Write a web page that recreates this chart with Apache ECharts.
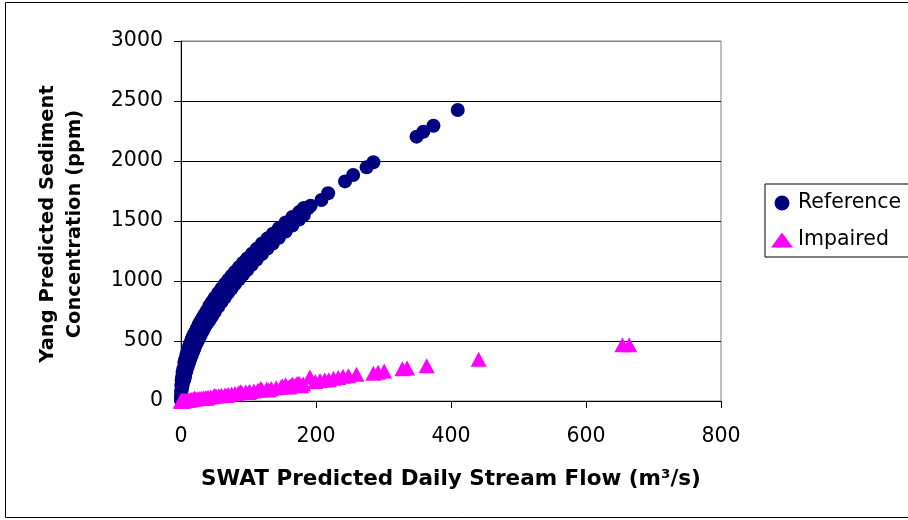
<!DOCTYPE html>
<html>
<head>
<meta charset="utf-8">
<script src="https://cdn.jsdelivr.net/npm/echarts@6/dist/echarts.min.js"></script>
<style>
  html, body { margin: 0; padding: 0; background: #fff; }
  #chart { width: 908px; height: 520px; }
</style>
</head>
<body>
<div id="chart"></div>
<script>
// Reference streams: daily flow (m3/s) and Yang sediment concentration (ppm)
const refFlow = [
  0.05, 0.1, 0.2, 0.3, 0.5, 0.6, 1, 1.2, 1.5, 2, 2.5, 3, 3.5, 4,
  5, 5, 6, 6, 7, 8, 8, 9, 10, 10, 11, 12, 12, 13, 14, 14, 15, 16, 16, 17,
  18, 18, 19, 20, 20, 21.5, 23, 23, 24.5, 26, 26, 27.5, 29, 29, 30.5, 32, 32,
  33.5, 35, 35, 36.5, 38, 38, 40, 42, 42, 44, 46, 46, 48, 50, 50, 52.5,
  55, 55, 57.5, 60, 60, 62.5, 65, 65, 67.5, 70, 70, 72.5, 75, 75, 77.5,
  80, 80, 83, 86, 86, 89, 92, 92, 95, 98, 98, 101.5, 105, 105, 108.5,
  112, 112, 116, 120, 120, 124, 128, 128, 132, 136, 136, 140.5, 145, 145,
  150, 155, 155, 160, 165, 165, 170, 175, 175, 179, 182, 182, 185, 188, 192,
  208, 218, 243, 255, 275, 285, 349, 359, 374, 410
];
const refConc = [
  5, 40, 80, 20, 130, 60, 170, 95, 200, 120, 240, 150, 270, 180,
  320, 180, 345, 205, 288, 385, 250, 328, 420, 285, 365, 455, 320, 398, 485, 352, 429, 515, 383, 458,
  540, 412, 485, 565, 440, 517, 600, 478, 554, 635, 513, 589, 665, 548, 621, 695, 580,
  653, 722, 612, 682, 750, 642, 716, 795, 670, 753, 828, 706, 788, 860, 742, 825,
  900, 784, 866, 938, 824, 904, 975, 863, 941, 1010, 902, 977, 1044, 938, 1012,
  1077, 974, 1049, 1116, 1015, 1088, 1152, 1054, 1126, 1188, 1092, 1165, 1228, 1136, 1207,
  1268, 1178, 1249, 1312, 1224, 1294, 1354, 1270, 1337, 1394, 1313, 1381, 1440, 1360,
  1430, 1488, 1412, 1478, 1533, 1462, 1526, 1576, 1512, 1568, 1608, 1550, 1595, 1605, 1627,
  1675, 1731, 1830, 1883, 1947, 1989, 2203, 2244, 2294, 2425
];

// Impaired streams
const impFlow = [
  0.1, 0.3, 0.6, 1, 1.5, 2, 3, 4, 5, 6, 8, 10, 12, 14, 16, 18, 20, 21, 24, 27,
  30, 33, 36, 38, 40, 44, 48, 50, 52, 56, 60, 65, 68, 70, 75, 80, 85, 88, 90,
  96, 100, 102, 108, 114, 118, 120, 127, 130, 134, 141, 148, 150, 155, 155,
  160, 162, 165, 169, 172, 175, 176, 178, 181,
  191, 199, 206, 213, 219, 226, 233, 240, 248, 260, 285, 292, 301, 328, 335,
  364, 441, 654, 664
];
const impConc = [
  0, 1, 0, 2, 1, 3, 2, 4, 3, 6, 5, 8, 9, 11, 12, 14, 24, 16, 19, 21,
  23, 26, 28, 22, 31, 34, 37, 46, 41, 43, 47, 50, 45, 55, 58, 62, 66, 78, 70,
  75, 70, 79, 84, 89, 104, 93, 99, 92, 104, 110, 115, 128, 121, 135,
  116, 126, 142, 132, 146, 148, 137, 128, 141,
  200, 162, 170, 176, 178, 190, 195, 206, 210, 222, 231, 240, 250, 268, 276,
  294, 347, 468, 468
];

const flowTicks = { min: 0, max: 800, step: 200 };
const concTicks = { min: 0, max: 3000, step: 500 };

const zip = (xs, ys) => xs.map((x, i) => [x, ys[i]]);

const labelFont = '"DejaVu Sans", sans-serif';

const chart = echarts.init(document.getElementById('chart'), null, { renderer: 'canvas' });

chart.setOption({
  backgroundColor: '#ffffff',
  animation: false,
  grid: {
    left: 181, top: 41, width: 540, height: 360,
    show: true, borderColor: '#808080', borderWidth: 1,
    backgroundColor: 'transparent'
  },
  xAxis: {
    type: 'value',
    min: flowTicks.min, max: flowTicks.max, interval: flowTicks.step,
    axisLine: { show: true, onZero: false, lineStyle: { color: '#000', width: 1 } },
    axisTick: { show: true, inside: false, length: 7, lineStyle: { color: '#000' } },
    axisLabel: {
      margin: 25, color: '#000', fontFamily: labelFont, fontSize: 20.5,
      formatter: v => String(v)
    },
    splitLine: { show: false }
  },
  yAxis: {
    type: 'value',
    min: concTicks.min, max: concTicks.max, interval: concTicks.step,
    axisLine: { show: true, onZero: false, lineStyle: { color: '#000', width: 1 } },
    axisTick: { show: true, inside: false, length: 7, lineStyle: { color: '#000' } },
    axisLabel: {
      margin: 18, color: '#000', fontFamily: labelFont, fontSize: 20.5,
      formatter: v => String(v)
    },
    splitLine: {
      show: true,
      lineStyle: { color: ['#000', '#000', '#000', '#000', '#000', '#000', '#808080'], width: 1 }
    }
  },
  legend: {
    orient: 'vertical',
    left: 765, top: 184,
    padding: [7, 40, 5, 6],
    itemGap: 13,
    itemWidth: 22, itemHeight: 15,
    borderColor: '#000', borderWidth: 1,
    backgroundColor: '#fff',
    textStyle: { color: '#000', fontFamily: labelFont, fontSize: 20.5, lineHeight: 24 },
    data: [
      { name: 'Reference', icon: 'circle' },
      { name: 'Impaired', icon: 'triangle' }
    ]
  },
  series: [
    {
      name: 'Reference',
      type: 'scatter',
      symbol: 'circle',
      symbolSize: 14,
      itemStyle: { color: '#000080', opacity: 1 },
      data: zip(refFlow, refConc)
    },
    {
      name: 'Impaired',
      type: 'scatter',
      symbol: 'triangle',
      symbolSize: [16, 15],
      itemStyle: { color: '#ff00ff', opacity: 1 },
      data: zip(impFlow, impConc)
    }
  ],
  graphic: [
    {
      type: 'rect',
      silent: true,
      shape: { x: 5.5, y: 2.5, width: 1000, height: 515 },
      style: { fill: 'none', stroke: '#000', lineWidth: 1 },
      z: -10
    },
    {
      type: 'text',
      silent: true,
      x: 451, y: 479,
      style: {
        text: 'SWAT Predicted Daily Stream Flow (m³/s)',
        font: 'bold 21.5px "DejaVu Sans", sans-serif',
        fill: '#000', align: 'center', verticalAlign: 'middle'
      }
    },
    {
      type: 'text',
      silent: true,
      x: 61, y: 224,
      rotation: Math.PI / 2,
      style: {
        text: 'Yang Predicted Sediment\nConcentration (ppm)',
        font: 'bold 19.5px "DejaVu Sans", sans-serif',
        lineHeight: 27,
        fill: '#000', align: 'center', verticalAlign: 'middle'
      }
    }
  ]
});
</script>
</body>
</html>
